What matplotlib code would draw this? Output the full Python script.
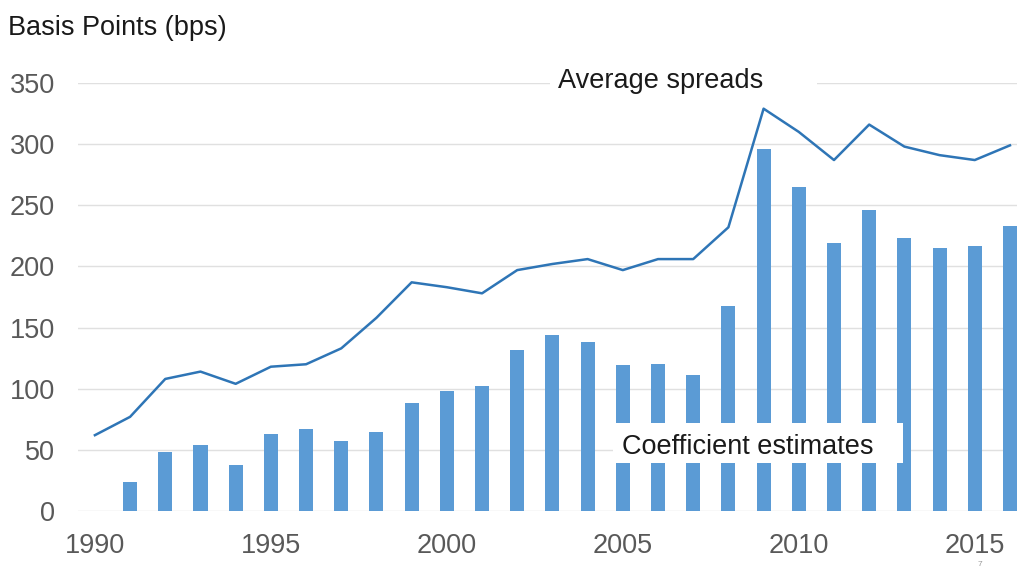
import matplotlib.pyplot as plt
from matplotlib.patches import Rectangle

plt.rcParams['font.family'] = ['Liberation Sans', 'DejaVu Sans']

# average spreads, 1990-2016 (bps)
spread_years = list(range(1990, 2017))
spreads = [62, 77, 108, 114, 104, 118, 120, 133, 158, 187, 183, 178, 197, 202,
           206, 197, 206, 206, 232, 329, 310, 287, 316, 298, 291, 287, 299]

# coefficient estimates, 1991-2016 (bps)
coef_years = list(range(1991, 2017))
coefs = [24, 48, 54, 38, 63, 67, 57, 65, 88, 98, 102, 132, 144, 138, 119, 120,
         111, 168, 296, 265, 219, 246, 223, 215, 217, 233]

y_ticks = [0, 50, 100, 150, 200, 250, 300, 350]
x_ticks = [1990, 1995, 2000, 2005, 2010, 2015]

fig = plt.figure(figsize=(10.17, 5.68), dpi=100)
ax = fig.add_axes([78 / 1017, 57 / 568, 1 - 78 / 1017, 428 / 568])

ax.bar(coef_years, coefs, width=0.4, color='#5b9bd5', zorder=2)
ax.plot(spread_years, spreads, color='#2e75b6', linewidth=1.8, zorder=3)

ax.set_ylim(0, 350)
ax.set_xlim(1989.52, 2016.2)
ax.set_yticks(y_ticks)
ax.set_xticks(x_ticks)
ax.grid(axis='y', color='#e0e0e0', linewidth=1, zorder=0)
ax.set_axisbelow(True)
for s in ax.spines.values():
    s.set_visible(False)
ax.tick_params(length=0, labelsize=19.5, colors='#595959')
ax.tick_params(axis='y', pad=16.5)
ax.tick_params(axis='x', pad=16)

# series labels sit on white boxes over the grid and bars
ax.add_patch(Rectangle((2002.93, 338), 7.6, 26, facecolor='white',
                       edgecolor='none', zorder=4, clip_on=False))
ax.text(2003.15, 352, 'Average spreads', fontsize=19.5, color='#1a1a1a',
        ha='left', va='center', zorder=5)
ax.add_patch(Rectangle((2004.72, 39.3), 8.23, 32.7, facecolor='white',
                       edgecolor='none', zorder=4))
ax.text(2004.97, 52.5, 'Coefficient estimates', fontsize=19.5, color='#1a1a1a',
        ha='left', va='center', zorder=5)

fig.text(8 / 1017, 1 - 28 / 568, 'Basis Points (bps)', fontsize=19.5,
         color='#1a1a1a', ha='left', va='center')
fig.text(980 / 1017, 1 - 564 / 568, '7', fontsize=6, color='#999999',
         ha='center', va='center')

fig.savefig('out.png', dpi=100)
